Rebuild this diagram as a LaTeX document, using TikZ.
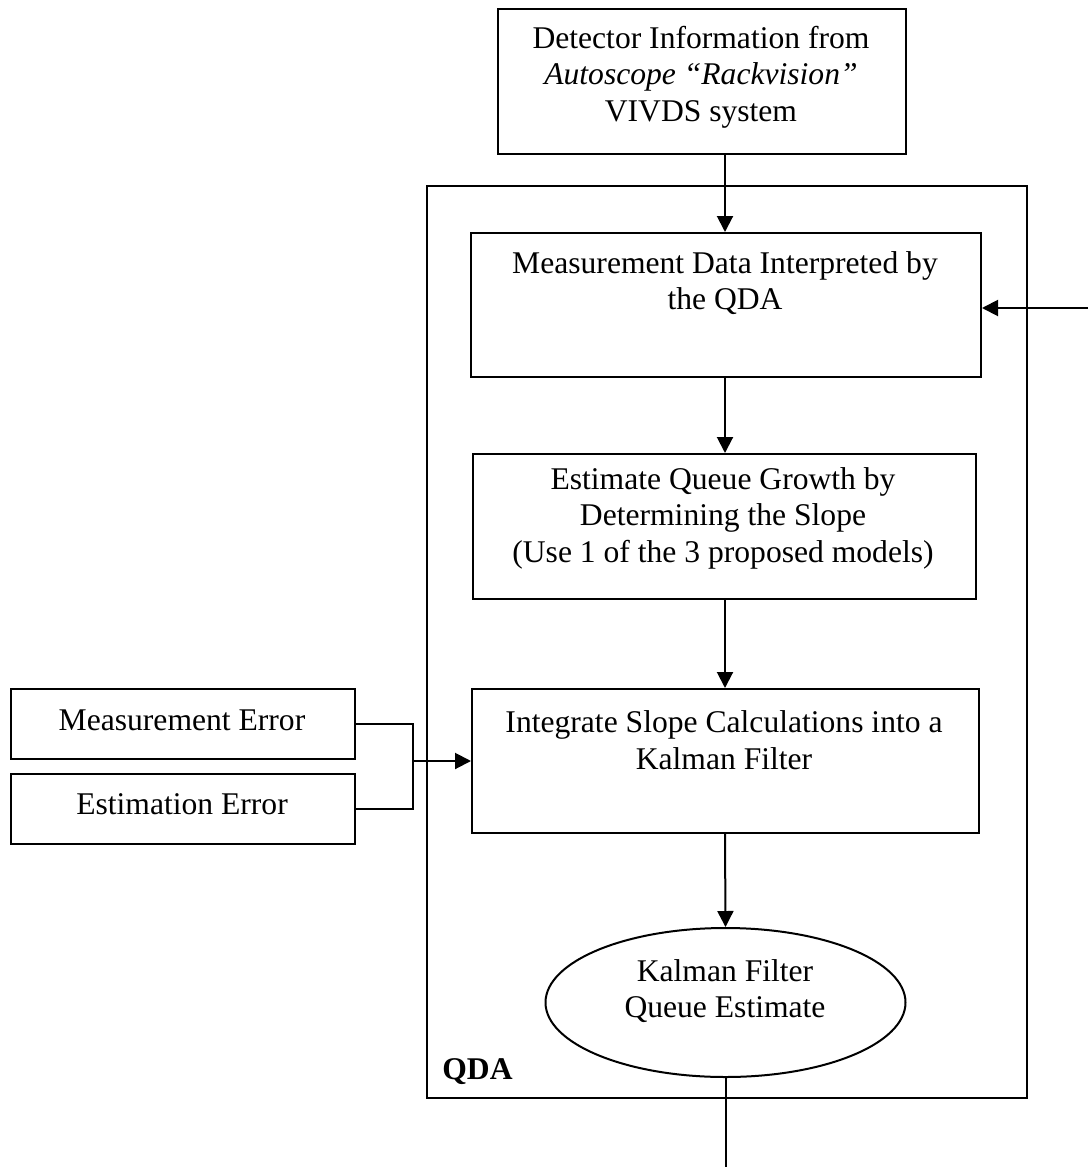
\documentclass[tikz,border=0pt]{standalone}
\usepackage{fontspec}
\setmainfont{Liberation Serif}
\usetikzlibrary{arrows.meta,shapes.geometric}
\tikzset{
  box/.style={draw, line width=1pt, rectangle, inner sep=0pt, anchor=north west},
  txt/.style={align=center, inner sep=0pt, font=\fontsize{15.8}{18.25}\selectfont},
  link/.style={line width=1pt, -{Triangle[length=8pt,width=8pt]}},
  wire/.style={line width=1pt}
}
\begin{document}
\begin{tikzpicture}[x=0.5pt,y=-0.5pt]
\useasboundingbox (0,0) rectangle (1088,1167);

% enclosing QDA block
\node[box, minimum width=300pt, minimum height=456pt] (qda) at (426,185) {};
\node[txt, font=\fontsize{15.8}{18.25}\selectfont\bfseries, anchor=west] (qdalbl) at (442,1072) {QDA};

% detector source
\node[box, minimum width=204pt, minimum height=72.5pt] (det) at (497,8) {};
\node[txt] (dettxt) at (701,77) {Detector Information from\\ \textit{Autoscope “Rackvision”}\\ VIVDS system};

% processing steps
\node[box, minimum width=255pt, minimum height=72pt] (meas) at (470,232) {};
\node[txt] (meastxt) at (725,283) {Measurement Data Interpreted by\\ the QDA};

\node[box, minimum width=251.5pt, minimum height=72.5pt] (est) at (472,453) {};
\node[txt] (esttxt) at (723,518) {Estimate Queue Growth by\\ Determining the Slope\\ (Use 1 of the 3 proposed models)};

\node[box, minimum width=253.5pt, minimum height=72pt] (kal) at (471,688) {};
\node[txt] (kaltxt) at (724,740) {Integrate Slope Calculations into a\\ Kalman Filter};

\node[draw, line width=1pt, ellipse, minimum width=180pt, minimum height=74.5pt, inner sep=0pt] (out) at (725.5,1002.5) {};
\node[txt] (outtxt) at (725,991) {Kalman Filter\\ Queue Estimate};

% error inputs
\node[box, minimum width=172pt, minimum height=35pt] (merr) at (10,688) {};
\node[txt] (merrtxt) at (182,720) {Measurement Error};
\node[box, minimum width=172pt, minimum height=35pt] (eerr) at (10,773) {};
\node[txt] (eerrtxt) at (182,804) {Estimation Error};
\coordinate (join) at (413,761);

% connectors
\draw[link] (det.south -| 725,0) -- (meas.north -| 725,0);
\coordinate (feed) at (1088,308);
\draw[link] (feed) -- (feed -| meas.east);
\draw[link] (meas.south -| 725,0) -- (est.north -| 725,0);
\draw[link] (est.south -| 725,0) -- (kal.north -| 725,0);
\draw[link] (kal.south -| 725,0) -- (out.north);
\draw[wire] (merr.east) -| (join) |- (eerr.east);
\draw[link] (join) -- (join -| kal.west);
\coordinate (sink) at (725.5,1167);
\draw[wire] (out.south) -- (sink);
\end{tikzpicture}
\end{document}
